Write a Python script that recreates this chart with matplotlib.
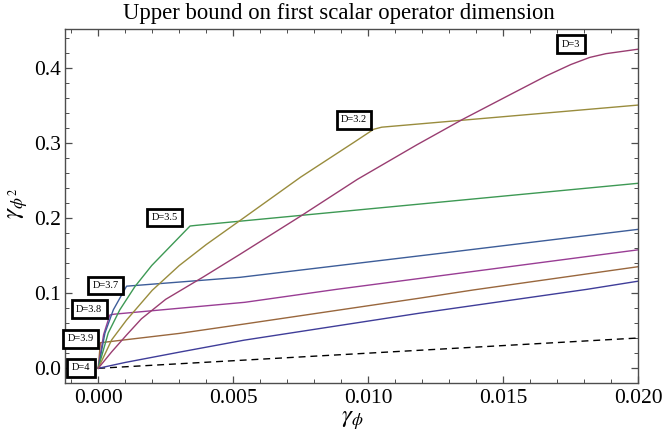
import colorsys
import matplotlib
matplotlib.use("Agg")
import matplotlib.pyplot as plt
from matplotlib.ticker import MultipleLocator, FuncFormatter

plt.rcParams['font.family'] = ['Liberation Serif', 'DejaVu Serif']
plt.rcParams['mathtext.fontset'] = 'stix'

# ---- data ----
d4_x = [0.0, 0.020]
d4_y = [0.0, 0.0404]

navy_x = [0.0, 0.001, 0.003, 0.0054, 0.0119, 0.0181, 0.020]
navy_y = [0.0, 0.0078, 0.0215, 0.0375, 0.0735, 0.1053, 0.1162]

d39_x = [0.0, 0.00008, 0.001, 0.003, 0.0054, 0.0119, 0.0139, 0.020]
d39_y = [0.0, 0.0341, 0.038, 0.0465, 0.059, 0.0935, 0.1045, 0.1355]

d38_x = [0.0, 0.0002, 0.00043, 0.0006, 0.00543, 0.00883, 0.020]
d38_y = [0.0, 0.045, 0.0711, 0.0722, 0.0880, 0.1053, 0.1580]

d37_x = [0.0, 0.00025, 0.00056, 0.00105, 0.0013, 0.00525, 0.0127, 0.020]
d37_y = [0.0, 0.047, 0.078, 0.1095, 0.1102, 0.1213, 0.1534, 0.1853]

d35_x = [0.0, 0.00037, 0.0008, 0.00136, 0.00198, 0.0034, 0.0036, 0.020]
d35_y = [0.0, 0.047, 0.078, 0.109, 0.1370, 0.1897, 0.1905, 0.2467]

d32_x = [0.0, 0.0005, 0.00105, 0.002, 0.003, 0.004, 0.00525, 0.0075, 0.0095, 0.0102, 0.0105, 0.020]
d32_y = [0.0, 0.038, 0.0644, 0.104, 0.137, 0.165, 0.197, 0.255, 0.302, 0.3187, 0.3215, 0.351]

d3_x = [0.0, 0.0005, 0.00105, 0.0016, 0.0025, 0.0039, 0.00525, 0.0075, 0.0096, 0.0118,
        0.0135, 0.0151, 0.0166, 0.0175, 0.0182, 0.0188, 0.0194, 0.020]
d3_y = [0.0, 0.022, 0.0444, 0.066, 0.092, 0.122, 0.152, 0.203, 0.252, 0.298,
        0.332, 0.362, 0.390, 0.405, 0.4145, 0.4195, 0.4225, 0.4255]

label_texts = ["D=3", "D=3.2", "D=3.5", "D=3.7", "D=3.8", "D=3.9", "D=4"]
label_x = [0.01751, 0.00947, 0.00247, 0.00027, -0.00033, -0.00064, -0.00064]
label_y = [0.4324, 0.3315, 0.2010, 0.1104, 0.0790, 0.0393, 0.0004]

title = "Upper bound on first scalar operator dimension"

# ---- style ----
def hue(h):
    return colorsys.hsv_to_rgb(h % 1.0, 0.6, 0.6)

fig = plt.figure(figsize=(6.65, 4.38), dpi=100)
ax = fig.add_axes([65/665, 1 - 383/438, (638.3 - 65)/665, (383 - 29)/438])

lw = 1.0
ax.plot(d4_x, d4_y, color='black', lw=lw, dashes=(5, 3.5))
ax.plot(navy_x, navy_y, color=hue(0.67), lw=lw)
ax.plot(d39_x, d39_y, color=hue(0.0756), lw=lw)
ax.plot(d38_x, d38_y, color=hue(0.8422), lw=lw)
ax.plot(d37_x, d37_y, color=hue(0.6089), lw=lw)
ax.plot(d35_x, d35_y, color=hue(0.3756), lw=lw)
ax.plot(d32_x, d32_y, color=hue(0.1422), lw=lw)
ax.plot(d3_x, d3_y, color=hue(0.906), lw=lw)

for t, x, y in zip(label_texts, label_x, label_y):
    ax.text(x, y, t, fontsize=7.5, ha='center', va='center', clip_on=False, zorder=5,
            bbox=dict(boxstyle='square,pad=0.42', fc='white', ec='black', lw=2.0))

ax.set_xlim(-0.00123, 0.0200)
ax.set_ylim(-0.0196, 0.4524)

ax.xaxis.set_major_locator(MultipleLocator(0.005))
ax.xaxis.set_minor_locator(MultipleLocator(0.001))
ax.yaxis.set_major_locator(MultipleLocator(0.1))
ax.yaxis.set_minor_locator(MultipleLocator(0.02))
ax.xaxis.set_major_formatter(FuncFormatter(lambda v, p: f"{v:.3f}"))
ax.yaxis.set_major_formatter(FuncFormatter(lambda v, p: f"{v:.1f}"))

framec = '0.3'
for s in ax.spines.values():
    s.set_color(framec)
    s.set_linewidth(1.0)
ax.tick_params(which='both', direction='in', top=True, right=True, color=framec,
               labelsize=15.5, labelcolor='black')
ax.tick_params(which='major', length=5, width=0.9)
ax.tick_params(which='minor', length=3, width=0.7)
ax.tick_params(axis='x', which='major', pad=4)
ax.tick_params(axis='y', which='major', pad=3)

fig.text(19/665, 1 - 203/438, r'$\gamma_{\phi^2}$', fontsize=18, rotation=90,
         ha='center', va='center')
fig.text(352/665, 1 - 421/438, r'$\gamma_{\phi}$', fontsize=18, ha='center', va='center')
fig.text(339/665, 1 - 14/438, title, fontsize=16.4, ha='center', va='center')

fig.savefig('out.png', dpi=100)
